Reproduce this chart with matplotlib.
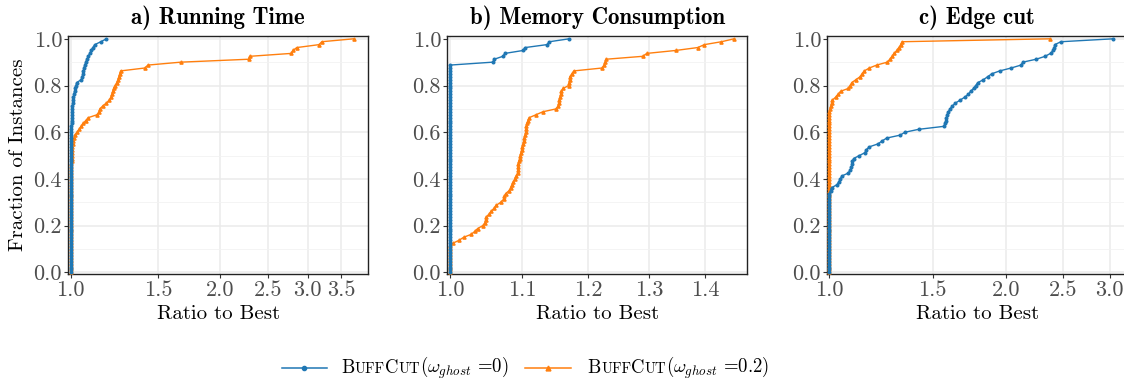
import numpy as np
import matplotlib.pyplot as plt
from matplotlib.lines import Line2D
from matplotlib.ticker import NullLocator
from matplotlib.offsetbox import HPacker, TextArea, DrawingArea, AnchoredOffsetbox

plt.rcParams['font.family'] = 'cmr10'
plt.rcParams['mathtext.fontset'] = 'cm'
plt.rcParams['axes.unicode_minus'] = False

# sorted ratio-to-best per instance (performance profile)
time_w0 = [1.000, 1.000, 1.000, 1.000, 1.000, 1.000, 1.000, 1.000, 1.000, 1.000,
           1.000, 1.000, 1.000, 1.000, 1.000, 1.000, 1.000, 1.000, 1.000, 1.000,
           1.000, 1.001, 1.001, 1.001, 1.001, 1.001, 1.001, 1.001, 1.001, 1.001,
           1.001, 1.001, 1.001, 1.001, 1.001, 1.001, 1.001, 1.002, 1.002, 1.002,
           1.002, 1.002, 1.002, 1.002, 1.002, 1.002, 1.002, 1.002, 1.002, 1.003,
           1.003, 1.004, 1.004, 1.005, 1.006, 1.006, 1.007, 1.008, 1.009, 1.011,
           1.013, 1.015, 1.018, 1.022, 1.025, 1.028, 1.050, 1.055, 1.058, 1.061,
           1.063, 1.068, 1.072, 1.078, 1.085, 1.092, 1.100, 1.108, 1.118, 1.150,
           1.180]
time_w02 = [1.000, 1.000, 1.000, 1.000, 1.000, 1.000, 1.000, 1.000, 1.000, 1.000,
            1.000, 1.001, 1.001, 1.001, 1.001, 1.001, 1.001, 1.001, 1.001, 1.001,
            1.001, 1.002, 1.002, 1.002, 1.002, 1.002, 1.002, 1.002, 1.002, 1.002,
            1.002, 1.003, 1.003, 1.003, 1.003, 1.003, 1.003, 1.003, 1.004, 1.004,
            1.004, 1.004, 1.005, 1.006, 1.010, 1.013, 1.016, 1.019, 1.030, 1.040,
            1.050, 1.060, 1.072, 1.085, 1.130, 1.140, 1.145, 1.160, 1.180, 1.196,
            1.205, 1.210, 1.215, 1.220, 1.228, 1.238, 1.245, 1.250, 1.255, 1.260,
            1.410, 1.430, 1.666, 2.280, 2.290, 2.780, 2.800, 2.850, 3.160, 3.200,
            3.710]

mem_w0 = [1.000, 1.000, 1.000, 1.000, 1.000, 1.000, 1.000, 1.000, 1.000, 1.000,
          1.000, 1.000, 1.000, 1.000, 1.000, 1.000, 1.000, 1.000, 1.000, 1.000,
          1.000, 1.000, 1.000, 1.000, 1.000, 1.000, 1.000, 1.000, 1.000, 1.000,
          1.000, 1.000, 1.000, 1.000, 1.000, 1.000, 1.000, 1.000, 1.000, 1.000,
          1.000, 1.000, 1.000, 1.000, 1.000, 1.000, 1.000, 1.000, 1.000, 1.000,
          1.000, 1.000, 1.000, 1.000, 1.000, 1.000, 1.000, 1.000, 1.000, 1.000,
          1.000, 1.000, 1.000, 1.000, 1.000, 1.000, 1.000, 1.000, 1.000, 1.000,
          1.000, 1.000, 1.058, 1.060, 1.072, 1.075, 1.101, 1.104, 1.136, 1.140,
          1.170]
mem_w02 = [1.000, 1.000, 1.000, 1.000, 1.000, 1.000, 1.000, 1.000, 1.000, 1.000,
           1.004, 1.012, 1.018, 1.028, 1.033, 1.037, 1.044, 1.047, 1.048, 1.049,
           1.053, 1.056, 1.060, 1.063, 1.069, 1.073, 1.074, 1.076, 1.081, 1.083,
           1.085, 1.087, 1.089, 1.091, 1.093, 1.0935, 1.094, 1.094, 1.095, 1.096,
           1.097, 1.098, 1.099, 1.100, 1.101, 1.102, 1.103, 1.104, 1.105, 1.1055,
           1.106, 1.107, 1.108, 1.110, 1.120, 1.130, 1.150, 1.153, 1.154, 1.155,
           1.156, 1.157, 1.158, 1.161, 1.169, 1.170, 1.1705, 1.171, 1.174, 1.177,
           1.222, 1.225, 1.227, 1.228, 1.289, 1.296, 1.346, 1.386, 1.398, 1.430,
           1.454]

cut_w0 = [1.000, 1.000, 1.000, 1.000, 1.000, 1.000, 1.000, 1.000, 1.000, 1.000,
          1.000, 1.000, 1.000, 1.000, 1.000, 1.000, 1.000, 1.000, 1.000, 1.000,
          1.000, 1.000, 1.000, 1.000, 1.000, 1.000, 1.000, 1.000, 1.005, 1.009,
          1.030, 1.038, 1.044, 1.050, 1.077, 1.085, 1.090, 1.093, 1.095, 1.100,
          1.125, 1.150, 1.156, 1.170, 1.210, 1.230, 1.252, 1.320, 1.345, 1.420,
          1.565, 1.575, 1.580, 1.583, 1.586, 1.595, 1.605, 1.620, 1.640, 1.670,
          1.700, 1.725, 1.740, 1.760, 1.775, 1.790, 1.830, 1.860, 1.890, 1.950,
          2.040, 2.120, 2.135, 2.250, 2.330, 2.380, 2.405, 2.415, 2.420, 2.480,
          3.045]
cut_w02 = [1.000, 1.000, 1.000, 1.000, 1.000, 1.000, 1.000, 1.000, 1.000, 1.000,
           1.000, 1.000, 1.000, 1.000, 1.000, 1.000, 1.000, 1.000, 1.000, 1.000,
           1.000, 1.000, 1.000, 1.000, 1.000, 1.000, 1.000, 1.000, 1.000, 1.000,
           1.000, 1.000, 1.000, 1.000, 1.000, 1.000, 1.000, 1.000, 1.000, 1.000,
           1.000, 1.000, 1.000, 1.000, 1.000, 1.000, 1.000, 1.000, 1.000, 1.000,
           1.000, 1.000, 1.000, 1.000, 1.000, 1.000, 1.003, 1.006, 1.009, 1.012,
           1.025, 1.035, 1.045, 1.077, 1.085, 1.092, 1.110, 1.128, 1.137, 1.147,
           1.170, 1.204, 1.255, 1.268, 1.280, 1.290, 1.303, 1.313, 1.323, 1.330,
           2.376]

titles = ["a) Running Time", "b) Memory Consumption", "c) Edge cut"]
xticks_a = [1.0, 1.5, 2.0, 2.5, 3.0, 3.5]
xticks_b = [1.0, 1.1, 1.2, 1.3, 1.4]
xticks_c = [1.0, 1.5, 2.0, 2.5, 3.0]
yticks = [0.0, 0.2, 0.4, 0.6, 0.8, 1.0]

blue = "#1f77b4"
orange = "#ff7f0e"

W, H = 1124, 381
fig = plt.figure(figsize=(W / 100, H / 100), dpi=100)

panels = [
    (68.3, time_w0, time_w02, xticks_a, (0.989, 3.97)),
    (447.3, mem_w0, mem_w02, xticks_b, (0.9964, 1.4795)),
    (827.3, cut_w0, cut_w02, xticks_c, (0.9922, 3.216)),
]

for k, (left, s0, s02, xt, xl) in enumerate(panels):
    ax = fig.add_axes([left / W, 1 - 274 / H, 300 / W, 238 / H])
    ax.set_xscale("log")
    ax.set_xticks(xt)
    ax.set_xticklabels(["%.1f" % v for v in xt])
    ax.xaxis.set_minor_locator(NullLocator())
    ax.set_yticks(yticks)
    ax.set_yticklabels(["%.1f" % v for v in yticks])
    ax.set_yticks([0.1, 0.3, 0.5, 0.7, 0.9], minor=True)
    ax.set_xlim(*xl)
    ax.set_ylim(-0.007, 1.012)
    ax.grid(which="major", color="#EBEBEB", lw=1.1)
    ax.grid(which="minor", axis="y", color="#F2F2F2", lw=0.6)
    ax.set_axisbelow(True)
    ax.tick_params(which="major", direction="out", length=3, width=0.8,
                   color="#333333", labelcolor="#4D4D4D", labelsize=16, pad=1.5)
    ax.tick_params(which="minor", length=0)
    for sp in ax.spines.values():
        sp.set_color("#222222")
        sp.set_linewidth(1.0)

    y0 = np.arange(len(s0)) / (len(s0) - 1)
    y02 = np.arange(len(s02)) / (len(s02) - 1)
    ax.plot(s02, y02, color=orange, lw=1.0, marker="^", ms=2.3, zorder=3)
    ax.plot(s0, y0, color=blue, lw=1.0, marker="o", ms=1.9, zorder=4)

    ax.set_title(titles[k], fontfamily="cmb10", fontsize=16.5, pad=9)
    ax.set_xlabel("Ratio to Best", fontsize=15, labelpad=4)
    if k == 0:
        ax.set_ylabel("Fraction of Instances", fontsize=15, labelpad=5)


def handle(color, marker, ms):
    da = DrawingArea(33, 10, 0, 0)
    da.add_artist(Line2D([0, 33], [5, 5], color=color, lw=1.1))
    da.add_artist(Line2D([16.5], [5], color=color, marker=marker, ms=ms))
    return da


def label(value):
    big = dict(size=13.5, color="black")
    small = dict(size=10.5, color="black")
    parts = [TextArea("B", textprops=big), TextArea("UFF", textprops=small),
             TextArea("C", textprops=big), TextArea("UT", textprops=small),
             TextArea(r"$(\omega_{ghost}$ =" + value + ")", textprops=big)]
    return HPacker(children=parts, align="baseline", pad=0, sep=0)


entry1 = HPacker(children=[handle(blue, "o", 3), label("0")],
                 align="center", pad=0, sep=10)
entry2 = HPacker(children=[handle(orange, "^", 3.5), label("0.2")],
                 align="center", pad=0, sep=12)
row = HPacker(children=[entry1, entry2], align="center", pad=0, sep=12)
leg = AnchoredOffsetbox(loc="center", child=row, frameon=False,
                        bbox_to_anchor=(525.5 / W, 1 - 368 / H),
                        bbox_transform=fig.transFigure, borderpad=0)
fig.add_artist(leg)

fig.savefig("out.png", dpi=100)
